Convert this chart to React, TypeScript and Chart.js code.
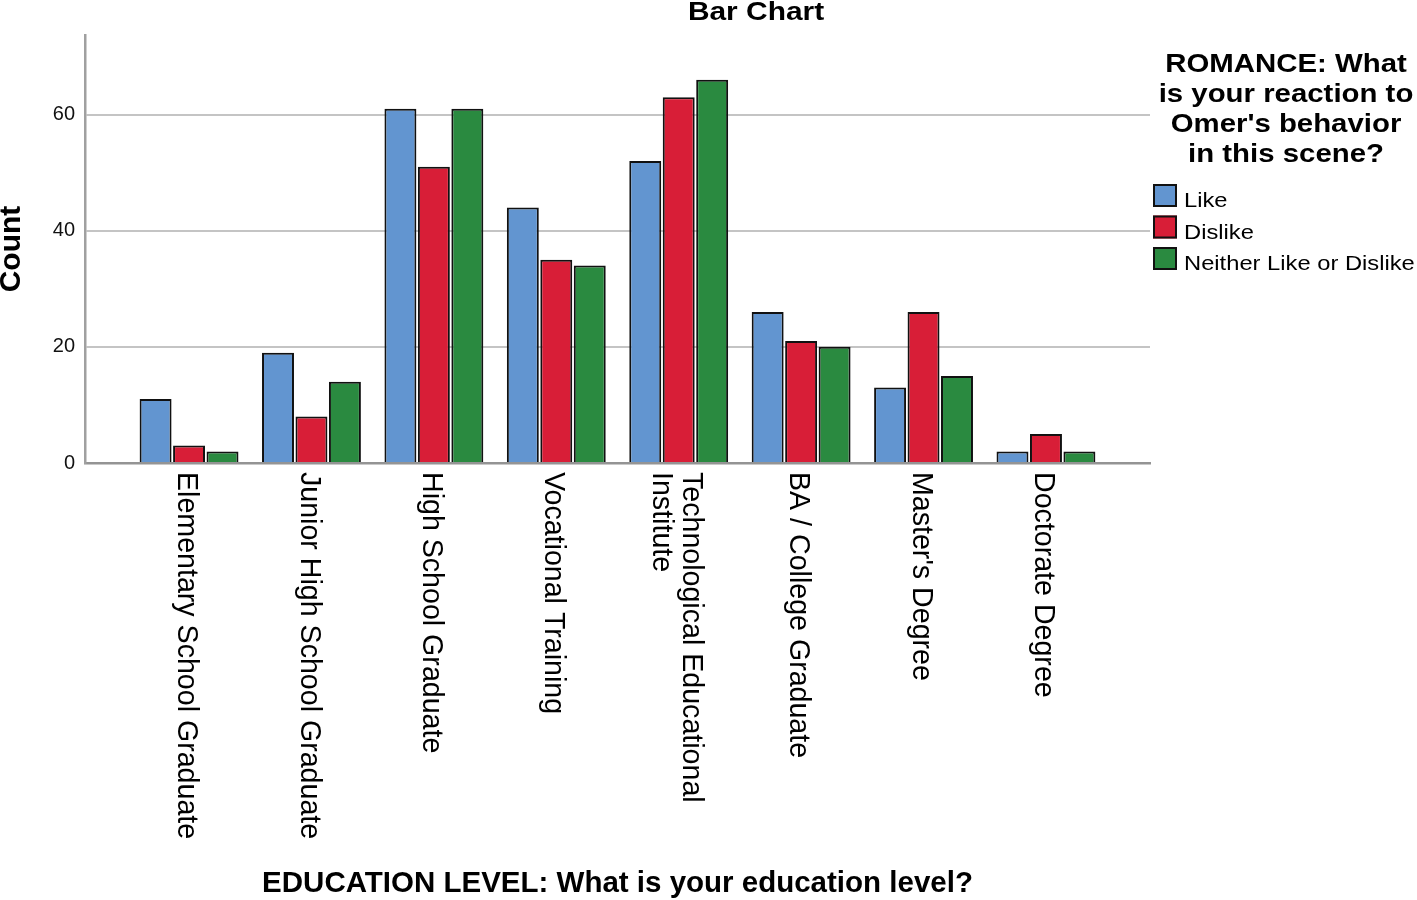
import React, { useEffect, useRef } from 'react';
import { Chart, registerables } from 'chart.js';

Chart.register(...registerables);

// categories on the x axis (an array = label on several lines)
const categories: (string | string[])[] = [
  'Elementary School Graduate',
  'Junior High School Graduate',
  'High School Graduate',
  'Vocational Training',
  ['Technological Educational', 'Institute'],
  'BA / College Graduate',
  "Master's Degree",
  'Doctorate Degree',
];

const seriesNames = ['Like', 'Dislike', 'Neither Like or Dislike'];
const likeCounts = [11, 19, 61, 44, 52, 26, 13, 2];
const dislikeCounts = [3, 8, 51, 35, 63, 21, 26, 5];
const neitherCounts = [2, 14, 61, 34, 66, 20, 15, 2];
const yTicks = [0, 20, 40, 60];

const chartTitle = 'Bar Chart';
const xTitle = 'EDUCATION LEVEL: What is your education level?';
const yTitle = 'Count';
const legendTitle = ['ROMANCE: What', 'is your reaction to', "Omer's behavior", 'in this scene?'];

const colors = ['#6295d0', '#d81e37', '#2a8a40'];
const FONT = '"Liberation Sans", Arial, sans-serif';

// text drawn a little wider than the font, like the SPSS output
const stretchText = (ctx, text, x, y, font, sx, align) => {
  ctx.save();
  ctx.font = font;
  ctx.textAlign = align;
  ctx.translate(x, y);
  ctx.scale(sx, 1);
  ctx.fillText(text, 0, 0);
  ctx.restore();
};

const decorations = {
  id: 'decorations',
  afterDraw(chart) {
    const { ctx, chartArea } = chart;
    const xScale = chart.scales.x;
    ctx.save();
    ctx.fillStyle = '#000';

    // title
    ctx.textBaseline = 'middle';
    stretchText(ctx, chartTitle, 756, 13, `bold 26px ${FONT}`, 1.15, 'center');

    // legend
    legendTitle.forEach((line, i) => {
      stretchText(ctx, line, 1286, 65 + i * 30, `bold 26px ${FONT}`, 1.13, 'center');
    });
    chart.data.datasets.forEach((ds, i) => {
      const top = 184 + i * 31.5;
      ctx.fillStyle = ds.backgroundColor;
      ctx.fillRect(1153, top, 24, 23);
      ctx.strokeStyle = '#111';
      ctx.lineWidth = 2;
      ctx.strokeRect(1154, top + 1, 22, 21);
      ctx.fillStyle = '#000';
      ctx.textBaseline = 'alphabetic';
      stretchText(ctx, ds.label, 1184, top + 23, `21px ${FONT}`, 1.13, 'left');
    });

    // category labels, turned clockwise
    ctx.font = `28.6px ${FONT}`;
    ctx.textAlign = 'left';
    ctx.textBaseline = 'middle';
    categories.forEach((cat, i) => {
      const lines = Array.isArray(cat) ? cat : [cat];
      const cx = xScale.getPixelForValue(i);
      ctx.save();
      ctx.translate(cx, chartArea.bottom + 9);
      ctx.rotate(Math.PI / 2);
      lines.forEach((ln, j) => {
        ctx.fillText(ln, 0, 3 + (j - (lines.length - 1) / 2) * 30);
      });
      ctx.restore();
    });
    ctx.restore();
  },
};

const App = () => {
  const chartRef = useRef(null);

  useEffect(() => {
    const canvas = chartRef.current;
    const series = [likeCounts, dislikeCounts, neitherCounts];

    const chart = new Chart(canvas, {
      type: 'bar',
      data: {
        datasets: series.map((vals, s) => ({
          label: seriesNames[s],
          data: vals.map((v, i) => ({ x: i, y: v })),
          backgroundColor: colors[s],
          borderColor: '#111',
          borderWidth: 2,
          categoryPercentage: 0.82,
          barPercentage: 0.955,
        })),
      },
      options: {
        responsive: false,
        animation: false,
        layout: { padding: { top: 35, right: 267, left: 0, bottom: 0 } },
        plugins: {
          legend: { display: false },
          title: { display: false },
          tooltip: { enabled: false },
        },
        scales: {
          x: {
            type: 'linear',
            min: -0.85,
            max: 7.85,
            offset: false,
            afterBuildTicks: (axis) => {
              axis.ticks = axis.ticks.filter((t) => Number.isInteger(t.value));
            },
            afterFit: (axis) => {
              axis.height = 437;
            },
            ticks: { display: false, stepSize: 1 },
            grid: { display: false, drawTicks: false, offset: false },
            border: { display: true, color: '#949494', width: 2.5 },
            title: {
              display: true,
              text: xTitle,
              color: '#000',
              padding: 0,
              font: { family: FONT, size: 29.5, weight: 'bold', lineHeight: 1.1 },
            },
          },
          y: {
            min: 0,
            max: 73.7,
            afterBuildTicks: (axis) => {
              axis.ticks = yTicks.map((v) => ({ value: v }));
            },
            afterFit: (axis) => {
              axis.width = 85;
            },
            ticks: { color: '#111', padding: 10, font: { family: FONT, size: 20 } },
            grid: { color: '#c4c4c4', lineWidth: 2, drawTicks: false },
            border: { color: '#a0a0a0', width: 2.5 },
            title: {
              display: true,
              text: yTitle,
              color: '#000',
              padding: 0,
              font: { family: FONT, size: 30, weight: 'bold', lineHeight: 0.8 },
            },
          },
        },
      },
      plugins: [decorations],
    });

    return () => {
      chart.destroy();
    };
  }, []);

  return (
    <div style={{ position: 'absolute', left: 0, top: 0, width: 1417, height: 900, background: '#fff' }}>
      <canvas ref={chartRef} width={1417} height={900} style={{ display: 'block' }}></canvas>
    </div>
  );
};

export default App;
